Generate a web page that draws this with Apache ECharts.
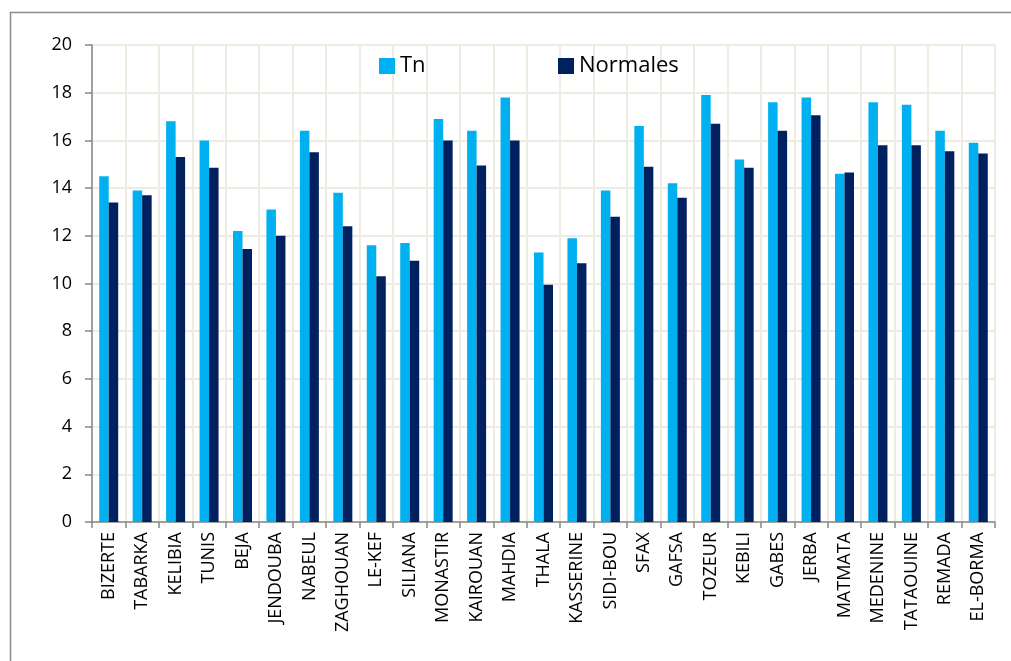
<!DOCTYPE html>
<html>
<head>
<meta charset="utf-8">
<script src="https://cdn.jsdelivr.net/npm/echarts@6/dist/echarts.min.js"></script>
<style>
html,body{margin:0;padding:0;background:#fff;}
#c{width:1011px;height:661px;}
</style>
</head>
<body>
<div id="c"></div>
<script>
const categories = ["BIZERTE","TABARKA","KELIBIA","TUNIS","BEJA","JENDOUBA","NABEUL","ZAGHOUAN","LE-KEF","SILIANA","MONASTIR","KAIROUAN","MAHDIA","THALA","KASSERINE","SIDI-BOU","SFAX","GAFSA","TOZEUR","KEBILI","GABES","JERBA","MATMATA","MEDENINE","TATAOUINE","REMADA","EL-BORMA"];
const tn = [14.5,13.9,16.8,16.0,12.2,13.1,16.4,13.8,11.6,11.7,16.9,16.4,17.8,11.3,11.9,13.9,16.6,14.2,17.9,15.2,17.6,17.8,14.6,17.6,17.5,16.4,15.9];
const normales = [13.4,13.7,15.3,14.85,11.45,12.0,15.5,12.4,10.3,10.95,16.0,14.95,16.0,9.95,10.85,12.8,14.9,13.6,16.7,14.85,16.4,17.05,14.65,15.8,15.8,15.55,15.45];
const yTicks = [0,2,4,6,8,10,12,14,16,18,20];

const FONT = '"Open Sans", sans-serif';
const GRID = '#EEECE1';
const chart = echarts.init(document.getElementById('c'), null, {renderer:'canvas'});
chart.setOption({
  animation: false,
  textStyle: {fontFamily: FONT},
  graphic: [{
    type: 'rect', silent: true, z: 0,
    shape: {x: 10.5, y: 12.5, width: 1200, height: 800},
    style: {fill: 'none', stroke: '#8C8C8C', lineWidth: 1.5}
  }],
  legend: [{
    data: ['Tn'], left: 379, top: 55, padding: 0, itemWidth: 16, itemHeight: 16, itemGap: 0,
    textStyle: {fontSize: 22, color: '#000', fontFamily: FONT}, icon: 'rect'
  },{
    data: ['Normales'], left: 558, top: 55, padding: 0, itemWidth: 16, itemHeight: 16,
    textStyle: {fontSize: 22, color: '#000', fontFamily: FONT}, icon: 'rect'
  }],
  grid: {left: 92, right: 16, top: 45, bottom: 139, containLabel: false},
  xAxis: {
    type: 'category', data: categories,
    axisLine: {lineStyle: {color: '#868686', width: 1.5}},
    axisTick: {show: true, alignWithLabel: false, length: 6, lineStyle: {color: '#868686', width: 1.5}},
    splitLine: {show: true, lineStyle: {color: GRID, width: 2}},
    axisLabel: {rotate: 90, fontSize: 18, color: '#000', margin: 10, interval: 0, fontFamily: FONT}
  },
  yAxis: {
    type: 'value', min: 0, max: 20, interval: 2,
    axisLine: {show: true, lineStyle: {color: '#868686', width: 1.5}},
    axisTick: {show: true, length: 7, lineStyle: {color: '#868686', width: 1.5}},
    splitLine: {show: true, lineStyle: {color: GRID, width: 2}},
    axisLabel: {fontSize: 18, color: '#000', margin: 20, fontFamily: FONT,
      formatter: v => yTicks.includes(v) ? String(v) : ''}
  },
  series: [{
    name: 'Tn', type: 'bar', data: tn, barWidth: 9.5, barGap: '0%',
    itemStyle: {color: '#00B0F0'}
  },{
    name: 'Normales', type: 'bar', data: normales, barWidth: 9.5, barGap: '0%',
    itemStyle: {color: '#002060'}
  }]
});
</script>
</body>
</html>
